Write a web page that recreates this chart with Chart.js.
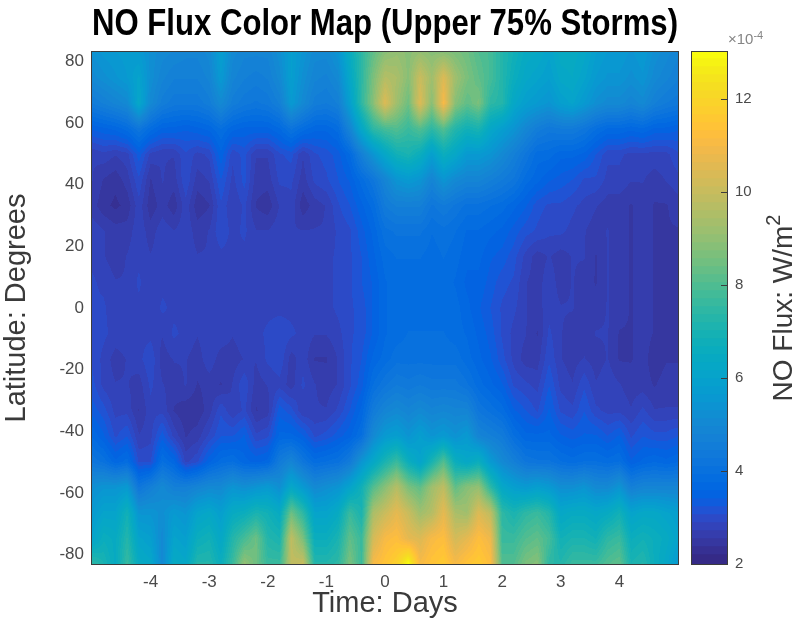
<!DOCTYPE html>
<html><head><meta charset="utf-8">
<style>html,body{margin:0;padding:0;background:#fff;width:802px;height:621px;overflow:hidden}
canvas{position:absolute;top:0;filter:blur(0.45px)}
#main{left:0}
#mw{position:absolute;left:0;top:0;width:770px;height:621px}
#bw{position:absolute;left:682px;top:0;width:120px;height:621px}
#bw canvas{left:0}
</style>
<script src="https://cdn.jsdelivr.net/npm/chart.js@4"></script></head>
<body>
<div id="mw"><canvas id="main"></canvas></div>
<div id="bw"><canvas id="bar"></canvas></div>
<script>
const titleText="NO Flux Color Map (Upper 75% Storms)";
const xLabel="Time: Days", yLabel="Latitude: Degrees", barLabel="NO Flux: W/m", barLabelPower="2", barExponent="×10", barExponentPower="-4";
const xTicks=[-4,-3,-2,-1,0,1,2,3,4];
const yTicks=[-80,-60,-40,-20,0,20,40,60,80];
const barTicks=[2,4,6,8,10,12];
const times=[-5,-4.8,-4.6,-4.4,-4.2,-4,-3.8,-3.6,-3.4,-3.2,-3,-2.8,-2.6,-2.4,-2.2,-2,-1.8,-1.6,-1.4,-1.2,-1,-0.8,-0.6,-0.4,-0.2,0,0.2,0.4,0.6,0.8,1,1.2,1.4,1.6,1.8,2,2.2,2.4,2.6,2.8,3,3.2,3.4,3.6,3.8,4,4.2,4.4,4.6,4.8,5];
const lats=[83,74.7,66.4,58.1,49.8,41.5,33.2,24.9,16.6,8.3,0,-8.3,-16.6,-24.9,-33.2,-41.5,-49.8,-58.1,-66.4,-74.7,-83];
// NO flux (×10⁻⁴ W/m²), one row per latitude
const flux=[
[5.3,5.5,5.6,5.7,5.6,5.2,5.0,4.9,4.8,4.8,5.0,5.8,5.0,4.8,4.8,4.8,5.2,5.8,5.4,5.0,5.0,5.4,6.5,7.4,8.2,8.8,9.0,8.8,9.0,8.8,8.8,8.6,8.4,8.0,7.8,7.2,6.8,6.4,6.3,6.0,6.4,6.4,6.2,5.8,5.6,5.6,5.4,5.6,5.2,5.0,4.8],
[5.0,5.2,5.4,5.6,6.0,5.2,4.8,4.6,4.6,4.6,4.8,5.6,4.8,4.6,4.5,4.6,5.0,5.8,5.2,4.8,4.7,5.0,6.2,7.4,8.6,9.6,9.4,8.8,10.0,9.2,10.4,9.2,8.6,8.2,7.8,7.2,6.6,6.2,6.0,5.8,6.2,6.3,6.0,5.6,5.4,5.4,5.2,5.4,5.0,4.8,4.6],
[4.4,4.6,4.8,5.0,6.2,5.0,4.5,4.3,4.3,4.3,4.5,5.0,4.5,4.3,4.2,4.3,4.6,5.6,5.0,4.5,4.4,4.6,5.8,7.4,8.8,10.4,9.2,8.4,10.4,8.8,11.0,8.8,8.2,8.6,7.4,7.2,6.2,5.8,5.6,5.4,5.8,6.0,5.6,5.2,5.0,5.0,4.8,5.0,4.6,4.4,4.3],
[3.4,3.5,3.6,3.8,4.2,3.8,3.5,3.5,3.4,3.5,3.6,3.9,3.6,3.5,3.5,3.5,3.7,4.1,3.8,3.6,3.6,3.8,4.8,6.2,7.4,7.8,8.0,7.6,8.0,7.4,8.0,7.2,6.8,7.0,6.2,5.8,5.4,4.9,4.5,4.3,4.4,4.4,4.2,3.9,3.7,3.7,3.6,3.7,3.5,3.5,3.4],
[2.7,2.8,2.7,2.8,3.3,2.8,2.7,2.7,3.0,2.8,2.9,3.5,2.9,3.1,2.7,2.7,3.0,3.1,2.7,3.0,3.1,3.3,3.7,4.6,5.4,6.2,6.8,7.0,6.6,5.8,6.6,6.2,5.6,5.6,5.4,5.0,4.6,4.2,3.8,3.8,3.6,3.6,3.5,3.2,2.9,2.9,2.8,2.8,2.8,2.8,3.0],
[2.7,2.5,2.4,2.6,3.0,2.5,2.7,2.6,3.0,2.6,2.7,3.2,2.8,3.1,2.6,2.6,2.9,2.9,2.6,2.9,3.0,3.2,3.4,3.8,4.2,4.8,5.4,5.6,5.4,4.8,5.4,5.0,4.8,4.8,4.6,4.4,4.2,3.8,3.6,3.4,3.3,3.2,3.0,3.0,2.8,2.8,2.7,2.7,2.6,2.7,2.8],
[2.6,2.4,2.3,2.4,2.8,2.4,2.6,2.4,2.8,2.4,2.5,3.0,2.7,2.9,2.5,2.4,2.7,2.8,2.4,2.6,2.7,3.0,3.2,3.5,3.8,4.4,4.6,4.6,4.6,4.2,4.4,4.2,4.0,4.0,3.9,3.8,3.6,3.4,3.1,3.0,3.0,2.9,2.8,2.7,2.6,2.6,2.5,2.6,2.5,2.5,2.6],
[2.8,2.7,2.6,2.6,2.8,2.6,2.8,2.7,2.8,2.6,2.7,3.0,2.8,2.9,2.7,2.7,2.8,2.7,2.7,2.7,2.7,2.9,3.0,3.3,3.6,4.0,4.1,4.1,4.1,3.9,4.0,3.9,3.7,3.7,3.6,3.5,3.3,3.1,3.0,2.9,2.9,2.8,2.7,2.6,2.7,2.6,2.5,2.6,2.5,2.5,2.5],
[2.8,2.7,2.6,2.7,2.8,2.7,2.8,2.7,2.8,2.7,2.7,2.8,2.8,2.8,2.7,2.8,2.8,2.8,2.7,2.7,2.8,2.9,3.0,3.2,3.5,3.8,3.9,3.9,3.9,3.8,3.9,3.8,3.6,3.6,3.4,3.3,3.1,2.8,2.6,2.7,2.6,2.7,2.7,2.5,2.7,2.6,2.5,2.6,2.5,2.5,2.4],
[2.9,2.8,2.7,2.7,2.9,2.7,2.8,2.8,2.8,2.8,2.7,2.7,2.8,2.8,2.7,2.8,2.8,2.8,2.8,2.7,2.8,2.9,3.0,3.2,3.4,3.7,3.8,3.8,3.8,3.8,3.8,3.7,3.5,3.5,3.3,3.1,3.0,2.7,2.6,2.8,2.6,2.7,2.6,2.5,2.7,2.6,2.5,2.6,2.5,2.5,2.4],
[2.9,2.9,2.7,2.8,2.8,2.7,2.9,2.8,2.8,2.7,2.8,2.8,2.8,2.8,2.8,2.8,2.8,2.8,2.8,2.8,2.8,2.9,3.0,3.1,3.4,3.7,3.8,3.8,3.8,3.8,3.8,3.8,3.6,3.4,3.2,3.0,2.9,2.7,2.6,2.8,2.7,2.7,2.6,2.6,2.7,2.6,2.5,2.6,2.5,2.5,2.4],
[3.0,2.9,2.8,2.8,2.8,2.8,2.7,2.9,2.8,2.7,2.8,2.8,2.7,2.8,2.8,2.9,3.0,2.9,2.8,2.7,2.7,2.8,3.0,3.1,3.4,3.7,3.8,3.9,3.9,3.9,3.9,3.8,3.7,3.5,3.3,3.0,2.8,2.7,2.5,2.9,2.7,2.6,2.6,2.7,2.7,2.5,2.5,2.6,2.5,2.5,2.4],
[3.0,2.8,2.6,2.7,2.8,3.0,2.6,2.7,2.7,2.6,2.8,2.6,2.6,2.7,2.7,2.9,3.0,2.6,2.8,2.5,2.5,2.7,3.0,3.2,3.6,3.8,4.0,4.0,4.0,4.0,4.0,4.0,3.8,3.6,3.4,3.1,2.8,2.6,2.6,3.0,2.7,2.6,2.7,2.6,2.7,2.5,2.5,2.6,2.4,2.5,2.5],
[3.1,2.8,2.7,2.7,2.6,2.9,2.7,2.6,2.7,2.5,2.6,2.5,2.7,3.0,2.6,2.7,2.8,2.6,2.9,2.7,2.6,2.7,3.0,3.3,3.9,4.2,4.4,4.3,4.4,4.3,4.3,4.3,4.1,3.8,3.6,3.4,3.0,2.9,2.8,3.2,2.8,2.7,3.0,2.7,2.8,2.7,2.6,2.6,2.5,2.6,2.6],
[3.3,3.1,2.8,2.8,2.5,2.8,2.8,2.5,2.4,2.4,2.6,3.0,2.7,2.9,2.5,2.6,3.3,3.1,2.7,2.7,2.7,2.9,3.2,3.6,4.4,4.8,5.0,4.8,5.0,4.8,4.9,4.8,4.8,4.2,4.0,3.8,3.4,3.2,3.0,3.4,3.0,2.9,3.2,2.9,2.8,2.8,2.7,2.9,2.7,2.7,2.7],
[3.7,3.4,3.0,3.2,2.7,2.8,3.3,2.8,2.5,2.6,2.9,3.2,3.2,3.4,2.9,3.0,3.6,3.6,3.4,3.0,3.1,3.3,3.5,3.9,5.0,5.6,5.8,5.4,5.8,5.4,5.6,5.3,5.6,4.8,4.6,4.4,3.9,3.6,3.6,3.6,3.4,3.3,3.4,3.4,3.2,3.4,3.0,3.2,3.1,3.1,3.2],
[4.2,4.0,3.6,3.8,3.0,3.0,3.9,3.6,2.8,3.0,3.5,3.8,3.9,3.6,3.5,3.6,4.4,4.8,4.2,3.8,3.9,4.0,4.4,5.4,6.2,7.0,7.6,6.6,6.0,7.0,8.0,6.6,6.2,6.6,5.6,5.0,4.6,4.2,4.1,4.1,3.9,3.8,3.9,3.9,3.8,3.9,3.4,3.6,3.7,3.6,3.7],
[5.2,5.4,5.4,5.6,4.2,4.6,5.0,4.6,4.6,4.8,5.0,5.0,5.4,5.2,5.4,5.6,5.2,6.2,5.6,5.0,5.2,5.4,6.0,6.8,8.0,8.8,9.6,8.6,8.2,9.2,9.8,8.2,8.8,9.0,7.4,6.2,5.8,5.6,5.8,5.6,5.2,5.2,5.4,5.0,5.0,5.4,4.6,4.8,4.8,4.8,4.8],
[5.6,6.0,6.0,6.8,5.4,5.4,5.2,5.6,5.4,6.0,6.2,5.8,6.4,6.6,7.0,6.8,6.4,8.4,7.4,6.0,6.0,6.4,7.6,7.0,9.4,10.0,10.6,10.0,9.2,9.6,10.6,9.4,9.2,10.4,9.8,7.4,7.0,7.4,7.6,7.2,6.2,6.4,6.4,6.2,6.4,6.8,6.0,6.2,6.2,6.0,5.8],
[6.0,6.6,6.4,7.2,6.0,5.8,5.0,6.0,5.8,6.6,6.8,6.2,7.2,7.8,8.4,7.2,7.0,9.8,8.6,6.6,6.6,7.0,8.2,7.6,10.2,11.0,11.2,10.6,10.4,11.0,11.2,10.2,10.6,11.2,10.8,7.6,7.6,8.0,8.2,7.8,6.8,7.0,7.0,6.8,7.4,7.6,6.6,6.8,6.6,6.4,6.0],
[7.4,7.0,6.4,7.6,6.4,6.2,5.0,6.4,6.2,7.2,7.2,6.6,7.6,9.0,8.4,7.6,7.6,9.8,10.0,7.2,7.2,7.4,8.6,7.6,11.0,11.4,11.8,13.0,11.0,11.4,11.6,11.0,11.4,11.6,11.2,8.0,8.0,8.6,8.8,7.4,7.2,7.6,7.6,7.6,8.0,8.2,7.0,7.2,6.6,6.2,5.6]
];
const parula=[[.2081,.1663,.5292],[.2116,.1898,.5777],[.2123,.2138,.627],[.2081,.2386,.6771],[.1959,.2645,.7279],[.1707,.2919,.7792],[.1253,.3242,.8303],[.0591,.3598,.8683],[.0117,.3875,.882],[.006,.4086,.8828],[.0165,.4266,.8786],[.0329,.443,.872],[.0498,.4586,.8641],[.0629,.4737,.8554],[.0723,.4887,.8467],[.0779,.504,.8384],[.0793,.52,.8312],[.0749,.5375,.8263],[.0641,.557,.824],[.0488,.5772,.8228],[.0343,.5966,.8199],[.0265,.6137,.8135],[.0239,.6287,.8038],[.0231,.6418,.7913],[.0228,.6535,.7768],[.0267,.6642,.7607],[.0384,.6743,.7436],[.059,.6838,.7254],[.0843,.6928,.7062],[.1133,.7015,.6859],[.1453,.7098,.6646],[.1801,.7177,.6424],[.2178,.725,.6193],[.2586,.7317,.5954],[.3022,.7376,.5712],[.3482,.7424,.5473],[.3953,.7459,.5244],[.442,.7481,.5033],[.4871,.7491,.484],[.53,.7491,.4661],[.5709,.7485,.4494],[.6099,.7473,.4337],[.6473,.7456,.4188],[.6834,.7435,.4044],[.7184,.7411,.3905],[.7525,.7384,.3768],[.7858,.7356,.3633],[.8185,.7327,.3498],[.8507,.7299,.336],[.8824,.7274,.3217],[.9139,.7258,.3063],[.945,.7261,.2886],[.9739,.7314,.2666],[.9938,.7455,.2403],[.999,.7653,.2164],[.9955,.7861,.1967],[.988,.8066,.1794],[.9789,.8271,.1633],[.9697,.8481,.1475],[.9626,.8705,.1309],[.9589,.8949,.1132],[.9598,.9218,.0948],[.9661,.9514,.0755],[.9763,.9831,.0538]];
const cMin=2,cMax=13;
const FONT="'Liberation Sans',Arial,sans-serif";
const TICK="#4a4a4a", FRAME="#3c3c3c";
const rgb255=c=>c.map(v=>Math.round(v*255));
const cssColor=c=>{const r=rgb255(c);return `rgb(${r[0]},${r[1]},${r[2]})`};
const levelOf=v=>Math.max(0,Math.min(63,Math.floor((v-cMin)/(cMax-cMin)*64)));
const dLat=8.3;

const cellDatasets=lats.map((lat,j)=>({
  data:times.map((t,i)=>({x:t,y:[lat-dLat/2,lat+dLat/2],v:flux[j][i]})),
  backgroundColor:flux[j].map(v=>cssColor(parula[levelOf(v)])),
  grouped:false,barPercentage:1,categoryPercentage:1,borderWidth:0
}));

// shades the cells smoothly between their centres, as a shaded pcolor does
const shade={id:'shade',afterDatasetsDraw(ch){
  const {ctx,chartArea:a,scales:{x,y}}=ch;
  const w=Math.round(a.right-a.left),h=Math.round(a.bottom-a.top);
  const img=ctx.createImageData(w,h);
  const nc=times.length-1,nr=lats.length-1;
  for(let py=0;py<h;py++){
    const la=y.getValueForPixel(a.top+py+.5);
    let fr=(lats[0]-la)/(lats[0]-lats[nr])*nr;fr=Math.max(0,Math.min(nr-1e-6,fr));
    const r0=Math.floor(fr),ry=fr-r0;
    for(let px=0;px<w;px++){
      const t=x.getValueForPixel(a.left+px+.5);
      let fc=(t-times[0])/(times[nc]-times[0])*nc;fc=Math.max(0,Math.min(nc-1e-6,fc));
      const c0=Math.floor(fc),rx=fc-c0;
      const v=(flux[r0][c0]*(1-rx)+flux[r0][c0+1]*rx)*(1-ry)+(flux[r0+1][c0]*(1-rx)+flux[r0+1][c0+1]*rx)*ry;
      const col=parula[levelOf(v)],k=(py*w+px)*4;
      img.data[k]=col[0]*255;img.data[k+1]=col[1]*255;img.data[k+2]=col[2]*255;img.data[k+3]=255;
    }
  }
  ctx.putImageData(img,Math.round(a.left),Math.round(a.top));
  ctx.save();ctx.strokeStyle=FRAME;ctx.lineWidth=1;
  ctx.strokeRect(Math.round(a.left)-.5,Math.round(a.top)-.5,w+1,h+1);ctx.restore();
}};

new Chart(document.getElementById('main'),{
  type:'bar',
  data:{datasets:cellDatasets},
  plugins:[shade],
  options:{responsive:true,maintainAspectRatio:false,animation:false,
    layout:{padding:{left:0,right:92,top:0,bottom:0}},
    plugins:{legend:{display:false},tooltip:{enabled:false},
      title:{display:true,text:titleText,color:'#000',fullSize:false,
        font:{family:FONT,size:36,weight:'bold'},padding:{top:3,bottom:5.8}}},
    scales:{
      x:{type:'linear',min:-5,max:5,offset:false,grid:{display:false},border:{display:false},
        afterBuildTicks:s=>{s.ticks=xTicks.map(v=>({value:v}))},
        afterFit:s=>{s.height=57},
        ticks:{color:TICK,font:{family:FONT,size:17},padding:0,maxRotation:0,autoSkip:false},
        title:{display:true,text:xLabel,color:'#3a3a3a',font:{family:FONT,size:29},padding:{top:0,bottom:0}}},
      y:{type:'linear',min:-83,max:83,grid:{display:false},border:{display:false},
        afterBuildTicks:s=>{s.ticks=yTicks.map(v=>({value:v}))},
        afterFit:s=>{s.width=92},
        ticks:{color:TICK,font:{family:FONT,size:17},padding:0,autoSkip:false},
        title:{display:true,text:yLabel,color:'#3a3a3a',font:{family:FONT,size:29},padding:{top:0,bottom:17}}}
    }}
});

const barDatasets=parula.map((c,i)=>{
  const lo=cMin+i*(cMax-cMin)/64,hi=cMin+(i+1)*(cMax-cMin)/64;
  return {data:[[lo,Math.min(cMax,hi+.03)]],backgroundColor:cssColor(c),grouped:false,barPercentage:1,categoryPercentage:1,borderWidth:0};
});
const barDeco={id:'barDeco',afterDraw(ch){
  const {ctx,chartArea:a,scales:{y}}=ch;
  ctx.save();ctx.strokeStyle=FRAME;ctx.lineWidth=1;
  ctx.strokeRect(Math.round(a.left)-.5,Math.round(a.top)-.5,Math.round(a.right-a.left)+1,Math.round(a.bottom-a.top)+1);
  barTicks.forEach(v=>{if(v===cMin)return;const p=Math.round(y.getPixelForValue(v))+.5;
    ctx.beginPath();ctx.moveTo(a.right,p);ctx.lineTo(a.right-6,p);ctx.stroke();});
  ctx.fillStyle='#858585';ctx.font='15px '+FONT;ctx.textAlign='left';ctx.textBaseline='alphabetic';
  ctx.fillText(barExponent,a.right+1,44);
  const ew=ctx.measureText(barExponent).width;
  ctx.font='11px '+FONT;ctx.fillText(barExponentPower,a.right+1+ew,39);
  ctx.translate(100,308);ctx.rotate(-Math.PI/2);
  ctx.fillStyle='#3a3a3a';ctx.font='28px '+FONT;ctx.textAlign='left';ctx.textBaseline='alphabetic';
  const lw=ctx.measureText(barLabel).width;
  ctx.font='20px '+FONT;const pw=ctx.measureText(barLabelPower).width;
  const start=-(lw+pw)/2;
  ctx.font='28px '+FONT;ctx.fillText(barLabel,start,10);
  ctx.font='20px '+FONT;ctx.fillText(barLabelPower,start+lw,-2);
  ctx.restore();
}};
new Chart(document.getElementById('bar'),{
  type:'bar',
  data:{labels:[''],datasets:barDatasets},
  plugins:[barDeco],
  options:{responsive:true,maintainAspectRatio:false,animation:false,
    layout:{padding:{left:10,right:0,top:52,bottom:57}},
    plugins:{legend:{display:false},tooltip:{enabled:false},title:{display:false}},
    scales:{
      x:{display:false,offset:true},
      y:{type:'linear',position:'right',min:cMin,max:cMax,grid:{display:false},border:{display:false},
        afterBuildTicks:s=>{s.ticks=barTicks.map(v=>({value:v}))},
        afterFit:s=>{s.width=75},
        ticks:{color:TICK,font:{family:FONT,size:15},padding:0,autoSkip:false}}
    }}
});
</script></body></html>
